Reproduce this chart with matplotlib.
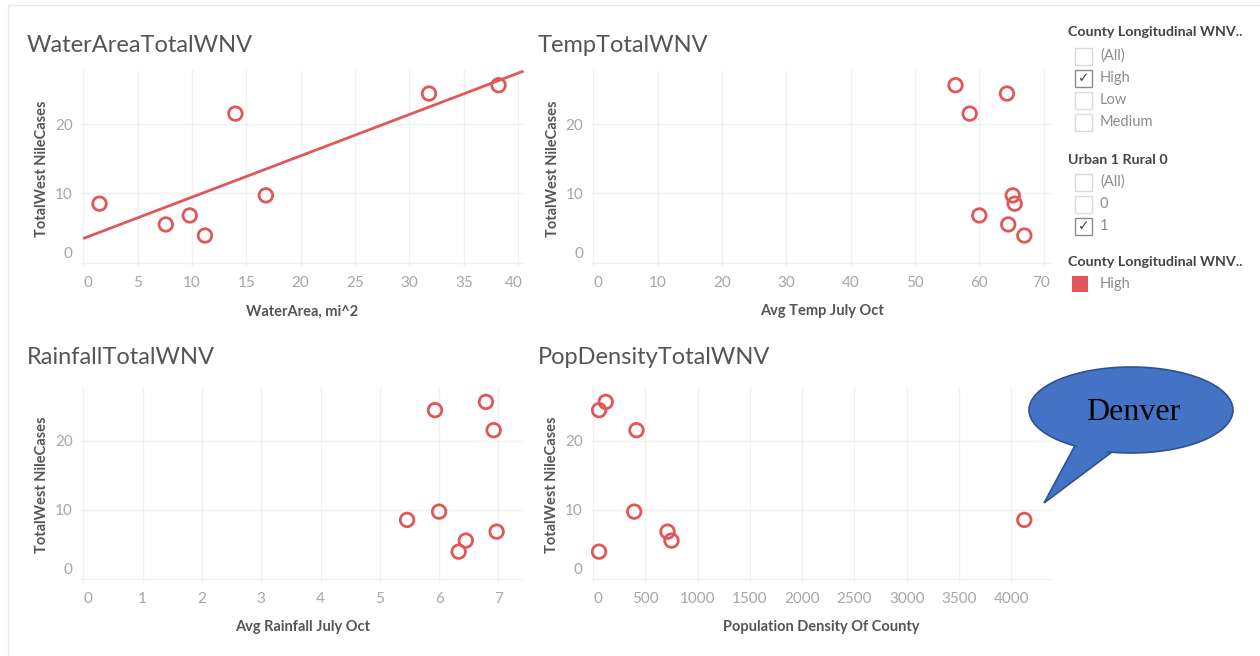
import numpy as np
import matplotlib
matplotlib.use("Agg")
import matplotlib.pyplot as plt
from matplotlib.patches import Rectangle, Ellipse, Polygon
from matplotlib.transforms import ScaledTranslation

# ---------------- data ----------------
cases = [25.6, 24.4, 21.5, 9.7, 8.5, 6.8, 5.5, 3.9]
water_area = [38.2, 31.8, 14.0, 16.8, 1.5, 9.8, 7.6, 11.2]
avg_temp = [56.3, 64.3, 58.5, 65.2, 65.5, 60.0, 64.5, 67.0]
avg_rain = [6.79, 5.93, 6.92, 6.0, 5.46, 6.97, 6.45, 6.33]
pop_density = [121, 57, 415, 393, 4125, 712, 750, 57]

titles = ["WaterAreaTotalWNV", "TempTotalWNV", "RainfallTotalWNV", "PopDensityTotalWNV"]
x_labels = ["WaterArea, mi^2", "Avg Temp July Oct", "Avg Rainfall July Oct", "Population Density Of County"]
y_label = "TotalWest NileCases"
y_ticks = [0, 10, 20]
x_ticks = [
    [0, 5, 10, 15, 20, 25, 30, 35, 40],
    [0, 10, 20, 30, 40, 50, 60, 70],
    [0, 1, 2, 3, 4, 5, 6, 7],
    [0, 500, 1000, 1500, 2000, 2500, 3000, 3500, 4000],
]
x_limits = [(-0.2, 40.5), (-0.3, 71.3), (-0.04, 7.42), (-20, 4390)]
y_limits = (-0.6, 27.8)

legend1_title = "County Longitudinal WNV.."
legend1_items = ["(All)", "High", "Low", "Medium"]
legend1_checked = [False, True, False, False]
legend2_title = "Urban 1 Rural 0"
legend2_items = ["(All)", "0", "1"]
legend2_checked = [False, False, True]
legend3_title = "County Longitudinal WNV.."
legend3_items = ["High"]
callout_text = "Denver"

# ---------------- style ----------------
W, H = 1260, 656
RED = "#E15759"
GRID = "#F0F0F0"
TICK = "#A6A6A6"
LAB = "#555555"
FONT = ["Lato", "DejaVu Sans"]
plt.rcParams["font.family"] = FONT

fig = plt.figure(figsize=(W / 100, H / 100), dpi=100)
fig.patch.set_facecolor("white")


def px_axes(left, top, right, bottom):
    return fig.add_axes([left / W, 1 - bottom / H, (right - left) / W, (bottom - top) / H])


# faint dashboard frame
fig.add_artist(Rectangle((8 / W, -0.01), 1.2, 1 - 5 / H + 0.01, transform=fig.transFigure,
                         fill=False, edgecolor="#E8E8E8", linewidth=1))

boxes = [(81, 70, 523.6, 266.7), (591.4, 70, 1052, 266.7),
         (81, 386.7, 523.3, 582.7), (591, 386.7, 1052, 582.7)]
title_pos = [(27, 45), (538, 45), (27, 358), (538, 358)]
last_shift = [-5, -3, 0, 0]
xs_all = [water_area, avg_temp, avg_rain, pop_density]

axes = []
for i in range(4):
    ax = px_axes(*boxes[i])
    axes.append(ax)
    ax.set_xlim(*x_limits[i])
    ax.set_ylim(*y_limits)
    for s in ax.spines.values():
        s.set_visible(False)
    ax.set_xticks(x_ticks[i])
    ax.set_yticks(y_ticks)
    ax.grid(True, color=GRID, linewidth=1)
    ax.set_axisbelow(True)
    ax.tick_params(length=0, labelsize=11, labelcolor=TICK, pad=6)
    ax.tick_params(axis="x", pad=7)
    ax.set_xlabel(x_labels[i], fontsize=10.5, color=LAB, fontweight="bold", labelpad=10)
    ax.set_ylabel(y_label, fontsize=10.5, color=LAB, fontweight="bold", labelpad=4)
    ax.scatter(xs_all[i], cases, s=95, facecolors="none", edgecolors=RED, linewidths=2, zorder=3)
    fig.text(title_pos[i][0] / W, 1 - title_pos[i][1] / H, titles[i], fontsize=17,
             color="#555555", va="center", ha="left")
    # shift edge tick labels inward like the reference
    xl = ax.get_xticklabels()
    xl[0].set_transform(xl[0].get_transform() + ScaledTranslation(5 / 100, 0, fig.dpi_scale_trans))
    if last_shift[i]:
        xl[-1].set_transform(xl[-1].get_transform() +
                             ScaledTranslation(last_shift[i] / 100, 0, fig.dpi_scale_trans))
    yl = ax.get_yticklabels()
    yl[0].set_transform(yl[0].get_transform() + ScaledTranslation(0, 10 / 100, fig.dpi_scale_trans))

# linear trend line on first panel
coef = np.polyfit(water_area, cases, 1)
tx = np.array([0, x_limits[0][1]])
axes[0].plot(tx, np.polyval(coef, tx), color=RED, linewidth=2, zorder=2, solid_capstyle="butt")

# ---------------- legend panel ----------------
def ftext(x, y, s, **kw):
    fig.text(x / W, 1 - y / H, s, va="center", ha="left", **kw)


def checkbox(x, y, checked):
    size = 17
    fig.add_artist(Rectangle((x / W, 1 - (y + size / 2) / H), size / W, size / H,
                             transform=fig.transFigure, fill=False,
                             edgecolor="#8A8A8A" if checked else "#DADADA", linewidth=1))
    if checked:
        fig.text((x + size / 2) / W, 1 - y / H, "\u2713", ha="center", va="center",
                 fontsize=10, color="#444444", family=["DejaVu Sans"])


HEAD = dict(fontsize=10.3, color="#444444", fontweight="bold")
ITEM = dict(fontsize=10.5, color="#8C8C8C")

ftext(1068, 32, legend1_title, **HEAD)
for k, (it, ch) in enumerate(zip(legend1_items, legend1_checked)):
    y = 56 + 22 * k
    checkbox(1075, y, ch)
    ftext(1100, y, it, **ITEM)

ftext(1068, 160, legend2_title, **HEAD)
for k, (it, ch) in enumerate(zip(legend2_items, legend2_checked)):
    y = 182 + 22 * k
    checkbox(1075, y, ch)
    ftext(1100, y, it, **ITEM)

ftext(1068, 262, legend3_title, **HEAD)
for k, it in enumerate(legend3_items):
    y = 284 + 22 * k
    fig.add_artist(Rectangle((1072 / W, 1 - (y + 8) / H), 16 / W, 16 / H,
                             transform=fig.transFigure, facecolor=RED, edgecolor="none"))
    ftext(1100, y, it, **ITEM)

# ---------------- Denver callout ----------------
BLUE = "#4472C4"
EDGE = "#2F528F"
tail = Polygon([(1078 / W, 1 - 440 / H), (1044 / W, 1 - 503 / H), (1120 / W, 1 - 446 / H)],
               closed=True, transform=fig.transFigure, facecolor=BLUE, edgecolor=EDGE, linewidth=1.2)
fig.add_artist(tail)
ell = Ellipse((1131 / W, 1 - 410 / H), 204 / W, 86 / H, transform=fig.transFigure,
              facecolor=BLUE, edgecolor=EDGE, linewidth=1.2)
fig.add_artist(ell)
# cover tail edge inside ellipse
fig.add_artist(Polygon([(1081 / W, 1 - 438 / H), (1050 / W, 1 - 498 / H), (1116 / W, 1 - 444 / H)],
                       closed=True, transform=fig.transFigure, facecolor=BLUE, edgecolor="none"))
fig.text(1133 / W, 1 - 412 / H, callout_text, ha="center", va="center", fontsize=23,
         color="black", family=["Liberation Serif", "DejaVu Serif"])

fig.savefig("out.png", dpi=100, facecolor="white")
